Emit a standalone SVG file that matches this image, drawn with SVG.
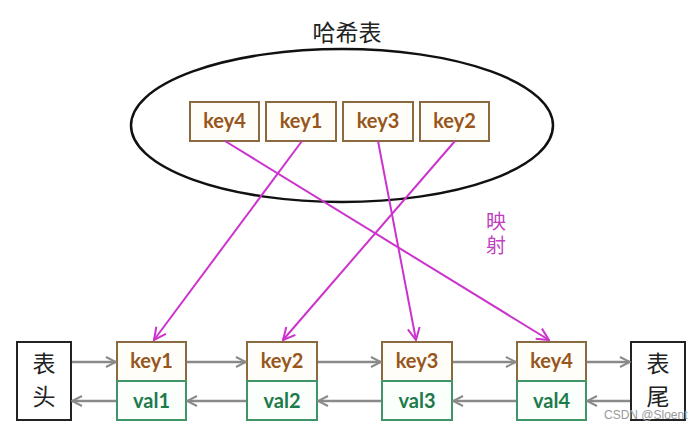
<svg xmlns="http://www.w3.org/2000/svg" width="695" height="429" viewBox="0 0 695 429">
<defs>
<marker id="ag" viewBox="0 0 12 12" refX="11" refY="6" markerWidth="12" markerHeight="12" markerUnits="userSpaceOnUse" orient="auto">
<path d="M1,1 L11,6 L1,11" fill="none" stroke="#8a8a8a" stroke-width="2"/>
</marker>
<marker id="am" viewBox="0 0 14 14" refX="13" refY="7" markerWidth="14" markerHeight="14" markerUnits="userSpaceOnUse" orient="auto">
<path d="M1,1 L13,7 L1,13" fill="none" stroke="#cc33cc" stroke-width="2"/>
</marker>
</defs>
<style>
.kbox{fill:#fffdf8;stroke:#8a6a3e;stroke-width:2}
.vbox{fill:#fbfffc;stroke:#3f9468;stroke-width:2}
.ktxt{font-family:Lato,"Open Sans","Liberation Sans",sans-serif;font-weight:bold;font-size:20px;fill:#96561c;text-anchor:middle}
.vtxt{font-family:Lato,"Open Sans","Liberation Sans",sans-serif;font-weight:bold;font-size:20px;fill:#1d7a4b;text-anchor:middle}
.cjk{font-family:"Noto Sans CJK SC",sans-serif;text-anchor:middle}
.end{fill:#ffffff;stroke:#222;stroke-width:2}
.g{stroke:#8a8a8a;stroke-width:2.5;fill:none;marker-end:url(#ag)}
.m{stroke:#cc33cc;stroke-width:2;fill:none;marker-end:url(#am)}
</style>
<rect width="695" height="429" fill="#ffffff"/>

<g id="hashtable">
<text class="cjk" x="347" y="41" font-size="23" fill="#222">哈希表</text>
<ellipse cx="342" cy="125.5" rx="211" ry="76.5" fill="none" stroke="#111" stroke-width="2.5"/>
</g>
<g id="hk4"><rect class="kbox" x="190" y="102" width="69" height="39"/><text class="ktxt" x="224.5" y="128">key4</text></g>
<g id="hk1"><rect class="kbox" x="266" y="102" width="70" height="39"/><text class="ktxt" x="301" y="128">key1</text></g>
<g id="hk3"><rect class="kbox" x="343" y="102" width="70" height="39"/><text class="ktxt" x="378" y="128">key3</text></g>
<g id="hk2"><rect class="kbox" x="420" y="102" width="69" height="39"/><text class="ktxt" x="454.5" y="128">key2</text></g>

<g id="map-label">
<text class="cjk" x="496" y="229" font-size="20" fill="#c23fc2">映</text>
<text class="cjk" x="496" y="253" font-size="20" fill="#c23fc2">射</text>
</g>

<g id="head"><rect class="end" x="17" y="342" width="54" height="78"/>
<text class="cjk" x="44" y="372" font-size="23" fill="#222">表</text>
<text class="cjk" x="44" y="405" font-size="23" fill="#222">头</text></g>
<g id="tail"><rect class="end" x="631" y="342" width="54" height="78"/>
<text class="cjk" x="658" y="372" font-size="23" fill="#222">表</text>
<text class="cjk" x="658" y="405" font-size="23" fill="#222">尾</text></g>

<g id="n1"><rect class="kbox" x="117" y="342" width="69" height="39"/><rect class="vbox" x="117" y="381" width="69" height="39"/>
<text class="ktxt" x="151.5" y="368">key1</text><text class="vtxt" x="151.5" y="408">val1</text></g>
<g id="n2"><rect class="kbox" x="247" y="342" width="70" height="39"/><rect class="vbox" x="247" y="381" width="70" height="39"/>
<text class="ktxt" x="282" y="368">key2</text><text class="vtxt" x="282" y="408">val2</text></g>
<g id="n3"><rect class="kbox" x="382" y="342" width="70" height="39"/><rect class="vbox" x="382" y="381" width="70" height="39"/>
<text class="ktxt" x="417" y="368">key3</text><text class="vtxt" x="417" y="408">val3</text></g>
<g id="n4"><rect class="kbox" x="517" y="342" width="69" height="39"/><rect class="vbox" x="517" y="381" width="69" height="39"/>
<text class="ktxt" x="551.5" y="368">key4</text><text class="vtxt" x="551.5" y="408">val4</text></g>

<g id="connectors">
<line class="g" x1="72" y1="362" x2="116" y2="362"/>
<line class="g" x1="187" y1="362" x2="246" y2="362"/>
<line class="g" x1="318" y1="362" x2="381" y2="362"/>
<line class="g" x1="453" y1="362" x2="516" y2="362"/>
<line class="g" x1="587" y1="362" x2="630" y2="362"/>
<line class="g" x1="116" y1="401" x2="72" y2="401"/>
<line class="g" x1="246" y1="401" x2="187" y2="401"/>
<line class="g" x1="381" y1="401" x2="318" y2="401"/>
<line class="g" x1="516" y1="401" x2="453" y2="401"/>
<line class="g" x1="630" y1="401" x2="587" y2="401"/>
<line class="m" x1="302" y1="141" x2="154" y2="340"/>
<line class="m" x1="455" y1="141" x2="283" y2="340"/>
<line class="m" x1="378" y1="141" x2="416" y2="340"/>
<line class="m" x1="225" y1="141" x2="549" y2="340"/>
</g>

<text x="604" y="419" font-family="'Liberation Sans',sans-serif" font-size="12" fill="#9a9a9a">CSDN @Sloent</text>
</svg>
